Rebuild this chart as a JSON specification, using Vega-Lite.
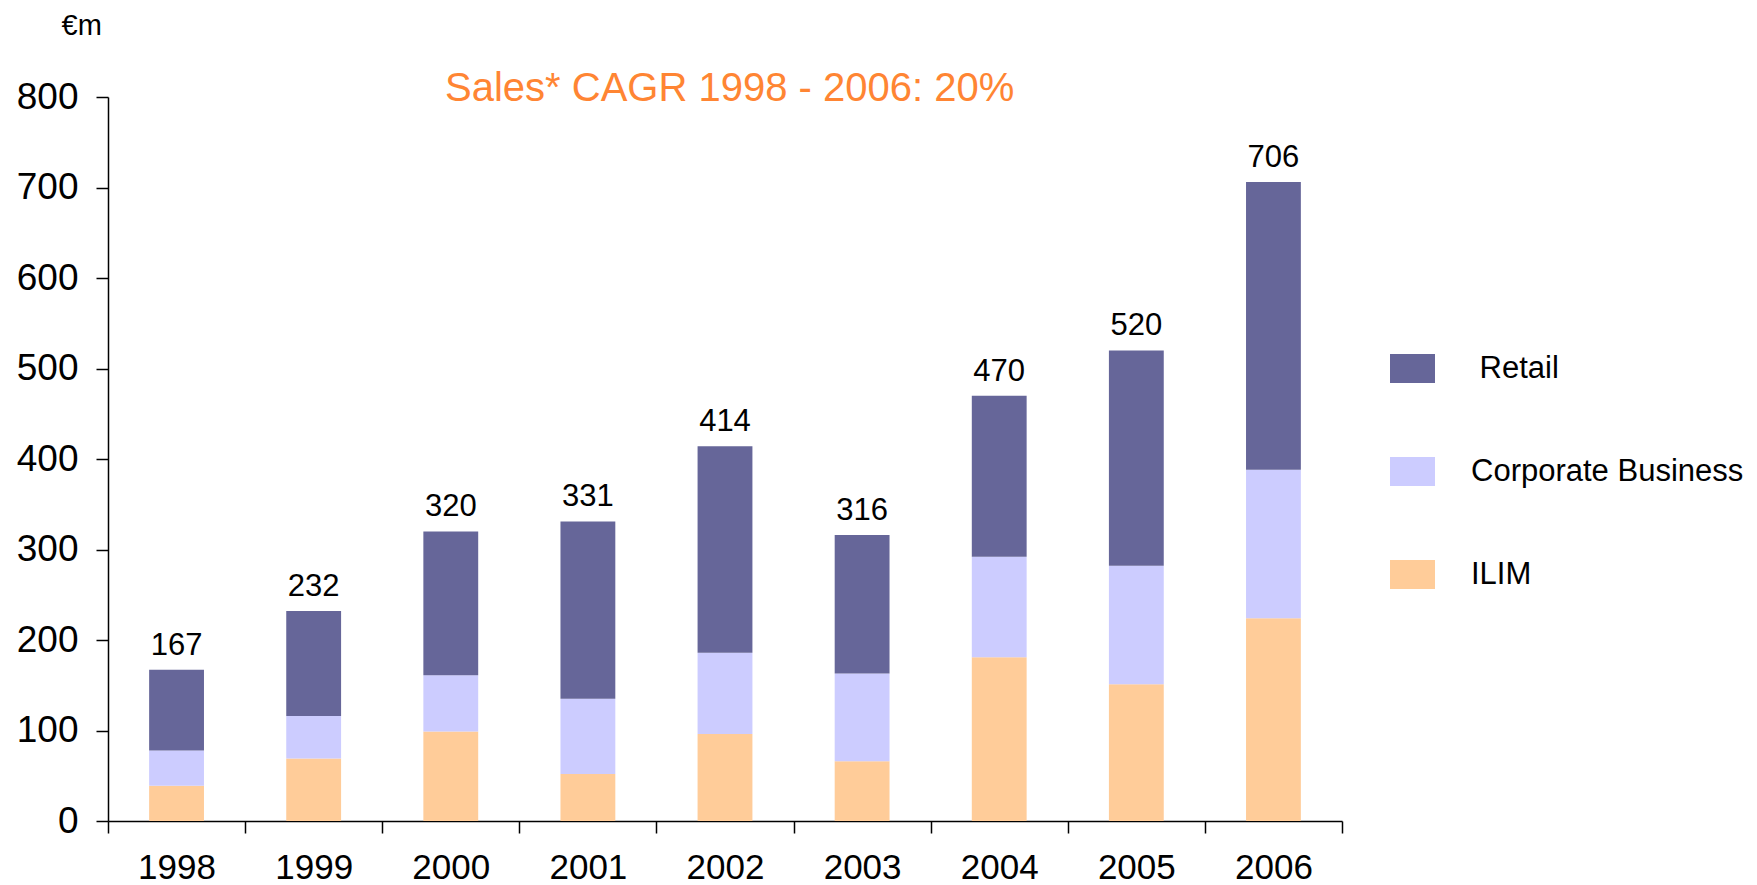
{
  "$schema": "https://vega.github.io/schema/vega-lite/v6.json",
  "autosize": "none",
  "padding": {"left": 108, "top": 97, "right": 415, "bottom": 64},
  "width": 1234,
  "height": 724,
  "config": {"font": "Liberation Sans", "view": {"stroke": null}},
  "title": {
    "text": "Sales* CAGR 1998 - 2006: 20%",
    "anchor": "start",
    "frame": "group",
    "color": "#FF8533",
    "fontSize": 40,
    "fontWeight": "normal",
    "dx": 337,
    "offset": -98
  },
  "datasets": {
    "segments": [
      {"year": "1998", "seg": "ILIM", "value": 39},
      {"year": "1998", "seg": "Corporate Business", "value": 39},
      {"year": "1998", "seg": "Retail", "value": 89},
      {"year": "1999", "seg": "ILIM", "value": 69},
      {"year": "1999", "seg": "Corporate Business", "value": 47},
      {"year": "1999", "seg": "Retail", "value": 116},
      {"year": "2000", "seg": "ILIM", "value": 99},
      {"year": "2000", "seg": "Corporate Business", "value": 62},
      {"year": "2000", "seg": "Retail", "value": 159},
      {"year": "2001", "seg": "ILIM", "value": 52},
      {"year": "2001", "seg": "Corporate Business", "value": 83},
      {"year": "2001", "seg": "Retail", "value": 196},
      {"year": "2002", "seg": "ILIM", "value": 96},
      {"year": "2002", "seg": "Corporate Business", "value": 90},
      {"year": "2002", "seg": "Retail", "value": 228},
      {"year": "2003", "seg": "ILIM", "value": 66},
      {"year": "2003", "seg": "Corporate Business", "value": 97},
      {"year": "2003", "seg": "Retail", "value": 153},
      {"year": "2004", "seg": "ILIM", "value": 181},
      {"year": "2004", "seg": "Corporate Business", "value": 111},
      {"year": "2004", "seg": "Retail", "value": 178},
      {"year": "2005", "seg": "ILIM", "value": 151},
      {"year": "2005", "seg": "Corporate Business", "value": 131},
      {"year": "2005", "seg": "Retail", "value": 238},
      {"year": "2006", "seg": "ILIM", "value": 224},
      {"year": "2006", "seg": "Corporate Business", "value": 164},
      {"year": "2006", "seg": "Retail", "value": 318}
    ],
    "totals": [
      {"year": "1998", "total": 167},
      {"year": "1999", "total": 232},
      {"year": "2000", "total": 320},
      {"year": "2001", "total": 331},
      {"year": "2002", "total": 414},
      {"year": "2003", "total": 316},
      {"year": "2004", "total": 470},
      {"year": "2005", "total": 520},
      {"year": "2006", "total": 706}
    ]
  },
  "encoding": {
    "x": {
      "field": "year",
      "type": "ordinal",
      "scale": {"paddingInner": 0, "paddingOuter": 0},
      "axis": {
        "title": null,
        "labelAngle": 0,
        "tickBand": "extent",
        "tickSize": 12,
        "tickWidth": 1.5,
        "tickColor": "black",
        "domainColor": "black",
        "domainWidth": 1.5,
        "labelFontSize": 35,
        "labelColor": "black",
        "labelPadding": 17
      }
    }
  },
  "layer": [
    {
      "data": {"name": "segments"},
      "transform": [
        {"calculate": "indexof(['ILIM','Corporate Business','Retail'], datum.seg)", "as": "stackOrder"}
      ],
      "mark": {"type": "bar", "width": {"band": 0.4}},
      "encoding": {
        "y": {
          "field": "value",
          "type": "quantitative",
          "stack": "zero",
          "scale": {"domain": [0, 800], "nice": false},
          "axis": {
            "values": [0, 100, 200, 300, 400, 500, 600, 700, 800],
            "grid": false,
            "tickSize": 12,
            "tickWidth": 1.5,
            "tickColor": "black",
            "domainColor": "black",
            "domainWidth": 1.5,
            "labelFontSize": 37,
            "labelColor": "black",
            "labelPadding": 18,
            "title": "€m",
            "titleAngle": 0,
            "titleX": -47,
            "titleY": -72,
            "titleAlign": "left",
            "titleBaseline": "middle",
            "titleFontSize": 29,
            "titleFontWeight": "normal",
            "titleColor": "black"
          }
        },
        "color": {
          "field": "seg",
          "type": "nominal",
          "scale": {
            "domain": ["Retail", "Corporate Business", "ILIM"],
            "range": ["#666699", "#CCCCFF", "#FFCC99"]
          },
          "legend": {
            "orient": "none",
            "legendX": 1282,
            "legendY": 249,
            "title": null,
            "symbolType": "M-1,-0.644H1V0.644H-1Z",
            "symbolSize": 2025,
            "symbolStrokeWidth": 0,
            "symbolOpacity": 1,
            "labelFontSize": 31,
            "labelColor": "black",
            "labelOffset": 36,
            "labelLimit": 500,
            "rowPadding": 65,
            "labelExpr": "datum.label == 'Retail' ? '\u200b\u00a0Retail' : datum.label"
          }
        },
        "order": {"field": "stackOrder", "type": "quantitative"}
      }
    },
    {
      "data": {"name": "totals"},
      "mark": {"type": "text", "baseline": "alphabetic", "dy": -15, "fontSize": 31, "color": "black"},
      "encoding": {
        "y": {"field": "total", "type": "quantitative"},
        "text": {"field": "total", "type": "quantitative"}
      }
    }
  ]
}
